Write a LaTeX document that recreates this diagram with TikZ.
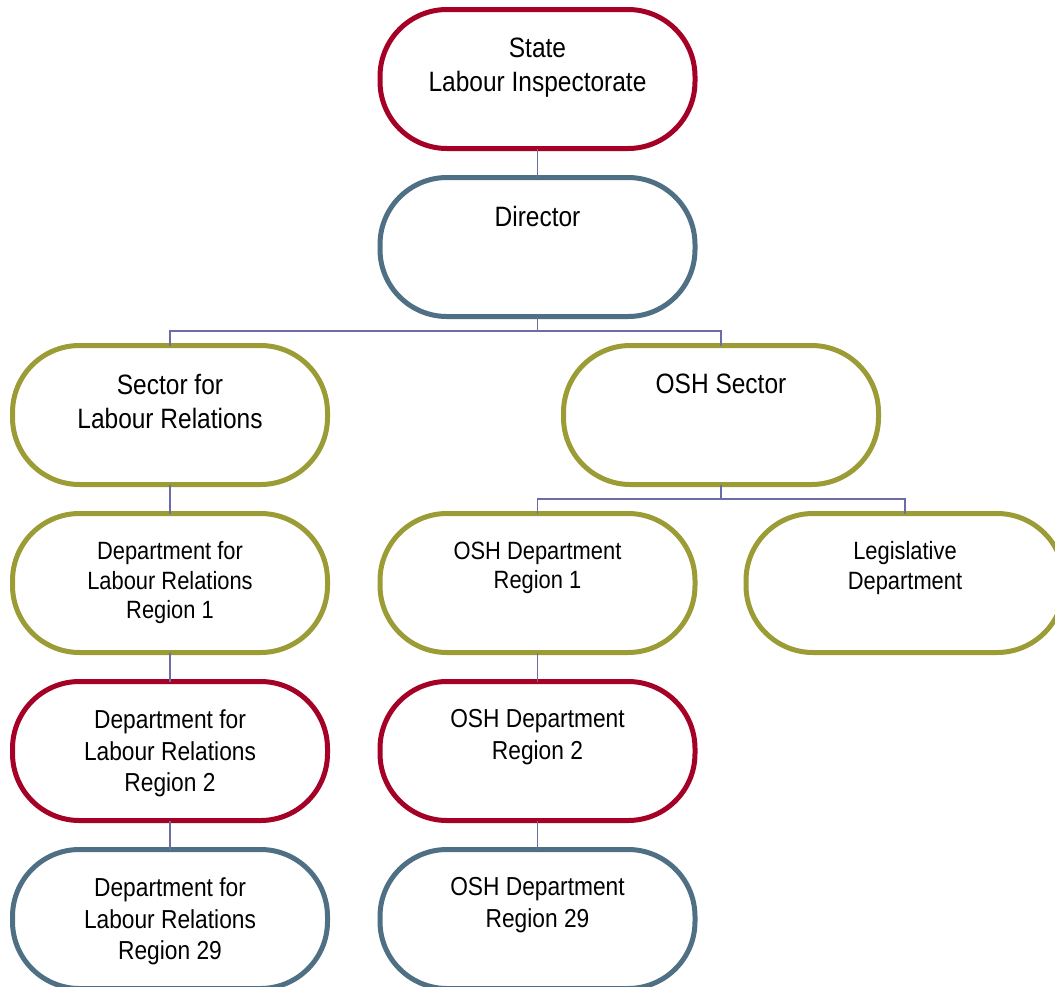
\documentclass[tikz,border=0pt]{standalone}
\usepackage{fontspec}
\setmainfont{Liberation Sans}[FakeStretch=0.875]
\definecolor{cred}{HTML}{A50026}
\definecolor{cblue}{HTML}{4F6F84}
\definecolor{colive}{HTML}{9C9C36}
\definecolor{cline}{HTML}{6C6CA6}
\tikzset{
  orgbox/.style={draw=#1, line width=5pt, fill=white, rounded corners=67pt,
    minimum width=315pt, minimum height=139pt, inner sep=0pt, outer sep=0pt},
  bigtxt/.style={anchor=north, inner sep=0pt, align=center, text=black,
    font=\fontsize{28}{34}\selectfont},
  midtxt/.style={anchor=north, inner sep=0pt, align=center, text=black,
    font=\fontsize{25}{29.5}\selectfont},
  smalltxt/.style={anchor=north, inner sep=0pt, align=center, text=black,
    font=\fontsize{26}{31.5}\selectfont},
  conn/.style={draw=cline, line width=1.6pt}
}
\begin{document}
\begin{tikzpicture}[x=1pt,y=-1pt]
\useasboundingbox[fill=white] (0,0) rectangle (1055,986);
% boxes
\node[orgbox=cred]   (sli)  at (537.5,79) {};
\node[orgbox=cblue]  (dir)  at (537.5,247) {};
\node[orgbox=colive] (slr)  at (170,415) {};
\node[orgbox=colive] (osh)  at (721,415) {};
\node[orgbox=colive] (lr1)  at (170,583) {};
\node[orgbox=colive] (os1)  at (537.5,583) {};
\node[orgbox=colive, minimum width=318pt] (leg)  at (905,583) {};
\node[orgbox=cred]   (lr2)  at (170,751) {};
\node[orgbox=cred]   (os2)  at (537.5,751) {};
\node[orgbox=cblue]  (lr29) at (170,919) {};
\node[orgbox=cblue]  (os29) at (537.5,919) {};
% texts
\node[bigtxt]   (tsli) at ([yshift=-28.5pt]sli.north) {State\\Labour Inspectorate};
\node[bigtxt]   (tdir) at ([yshift=-29pt]dir.north) {Director};
\node[bigtxt]   (tslr) at ([yshift=-28.5pt]slr.north) {Sector for\\Labour Relations};
\node[bigtxt]   (tosh) at ([yshift=-28.5pt]osh.north) {OSH Sector};
\node[midtxt]   (tlr1) at ([yshift=-28pt]lr1.north) {Department for\\Labour Relations\\Region 1};
\node[midtxt]   (tos1) at ([yshift=-28pt]os1.north) {OSH Department\\Region 1};
\node[midtxt]   (tleg) at ([yshift=-28pt]leg.north) {Legislative\\Department};
\node[smalltxt] (tlr2) at ([yshift=-28pt]lr2.north) {Department for\\Labour Relations\\Region 2};
\node[smalltxt] (tos2) at ([yshift=-28pt]os2.north) {OSH Department\\Region 2};
\node[smalltxt] (tlr29) at ([yshift=-28pt]lr29.north) {Department for\\Labour Relations\\Region 29};
\node[smalltxt] (tos29) at ([yshift=-28pt]os29.north) {OSH Department\\Region 29};
% connectors
\draw[conn] (sli.south) -- (dir.north);
\draw[conn] (dir.south) -- ++(0,14.5) -| (slr.north);
\draw[conn] (dir.south) -- ++(0,14.5) -| (osh.north);
\draw[conn] (osh.south) -- ++(0,14.2) -| (os1.north);
\draw[conn] (osh.south) -- ++(0,14.2) -| (leg.north);
\draw[conn] (slr.south) -- (lr1.north);
\draw[conn] (lr1.south) -- (lr2.north);
\draw[conn] (lr2.south) -- (lr29.north);
\draw[conn] (os1.south) -- (os2.north);
\draw[conn] (os2.south) -- (os29.north);
\end{tikzpicture}
\end{document}
